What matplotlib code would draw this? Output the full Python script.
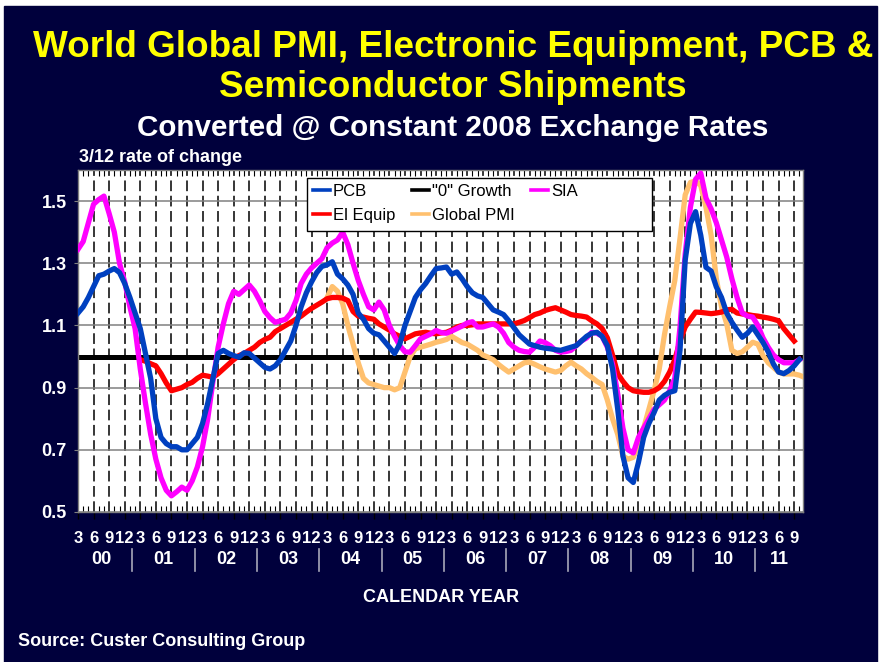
import numpy as np
import matplotlib.pyplot as plt
from matplotlib.lines import Line2D
from matplotlib.patches import Rectangle
import matplotlib.transforms as mtransforms

plt.rcParams['font.family'] = ['Liberation Sans', 'DejaVu Sans']

# month numbers count from Jan 2000 = 1, so Mar 2000 = 3
pcb_start = 3
pcb = [1.14, 1.16, 1.19, 1.225, 1.26, 1.265, 1.275, 1.283, 1.27, 1.235,
       1.19, 1.14, 1.09, 1.01, 0.93, 0.80, 0.74, 0.72, 0.71, 0.71, 0.70, 0.70,
       0.72, 0.74, 0.785, 0.85, 0.93, 1.01, 1.02, 1.01, 1.003, 0.998, 1.012, 1.01,
       0.995, 0.98, 0.965, 0.96, 0.97, 0.99, 1.02, 1.05, 1.10, 1.16, 1.205, 1.24,
       1.27, 1.29, 1.295, 1.305, 1.265, 1.25, 1.23, 1.20, 1.14, 1.12, 1.09, 1.075,
       1.07, 1.05, 1.03, 1.01, 1.04, 1.10, 1.145, 1.19, 1.215, 1.235, 1.26, 1.283,
       1.285, 1.288, 1.265, 1.272, 1.25, 1.225, 1.205, 1.195, 1.19, 1.17, 1.15, 1.143,
       1.135, 1.115, 1.093, 1.07, 1.055, 1.04, 1.035, 1.03, 1.027, 1.025, 1.022, 1.02,
       1.025, 1.03, 1.035, 1.05, 1.065, 1.075, 1.078, 1.065, 1.035, 0.96, 0.83, 0.68,
       0.61, 0.595, 0.66, 0.74, 0.785, 0.82, 0.86, 0.875, 0.885, 0.89, 1.02, 1.31,
       1.428, 1.466, 1.39, 1.287, 1.275, 1.224, 1.19, 1.14, 1.11, 1.085, 1.062, 1.075,
       1.095, 1.07, 1.045, 1.015, 0.976, 0.95, 0.945, 0.955, 0.97, 0.99]

sia_start = 3
sia = [1.345, 1.37, 1.43, 1.49, 1.505, 1.516, 1.46, 1.40, 1.30, 1.24,
       1.16, 1.09, 0.96, 0.85, 0.75, 0.67, 0.61, 0.57, 0.552, 0.565, 0.58, 0.57,
       0.60, 0.645, 0.71, 0.80, 0.92, 1.03, 1.105, 1.17, 1.21, 1.20, 1.215, 1.23,
       1.21, 1.18, 1.145, 1.125, 1.11, 1.115, 1.12, 1.14, 1.18, 1.235, 1.265, 1.285,
       1.30, 1.315, 1.35, 1.365, 1.375, 1.40, 1.36, 1.30, 1.245, 1.20, 1.16, 1.15,
       1.175, 1.15, 1.10, 1.065, 1.035, 1.015, 1.014, 1.035, 1.057, 1.065, 1.073, 1.084,
       1.077, 1.075, 1.082, 1.09, 1.098, 1.108, 1.112, 1.095, 1.095, 1.10, 1.105, 1.095,
       1.075, 1.045, 1.03, 1.02, 1.016, 1.014, 1.03, 1.05, 1.045, 1.035, 1.02, 1.014,
       1.016, 1.02, 1.035, 1.05, 1.06, 1.078, 1.075, 1.065, 1.03, 0.976, 0.88, 0.77,
       0.70, 0.69, 0.74, 0.77, 0.80, 0.83, 0.845, 0.86, 0.89, 0.93, 1.095, 1.33,
       1.48, 1.57, 1.59, 1.51, 1.475, 1.43, 1.375, 1.32, 1.25, 1.19, 1.14, 1.13,
       1.127, 1.10, 1.06, 1.03, 1.005, 0.99, 0.98, 0.98, 0.98, 0.99]

equip_start = 15
equip = [0.99, 0.985, 0.977, 0.97, 0.945, 0.915, 0.89, 0.895, 0.90, 0.91,
         0.917, 0.93, 0.94, 0.937, 0.933, 0.945, 0.96, 0.975, 0.99, 1.003, 1.01, 1.02,
         1.03, 1.045, 1.055, 1.062, 1.08, 1.09, 1.10, 1.11, 1.12, 1.13, 1.143, 1.155,
         1.165, 1.175, 1.186, 1.19, 1.19, 1.188, 1.18, 1.145, 1.13, 1.127, 1.123, 1.12,
         1.105, 1.095, 1.085, 1.073, 1.065, 1.057, 1.065, 1.073, 1.076, 1.078, 1.075, 1.073,
         1.076, 1.078, 1.085, 1.095, 1.10, 1.10, 1.102, 1.105, 1.105, 1.105, 1.105, 1.105,
         1.105, 1.105, 1.105, 1.11, 1.116, 1.125, 1.135, 1.14, 1.148, 1.153, 1.157, 1.15,
         1.143, 1.135, 1.132, 1.13, 1.127, 1.115, 1.105, 1.09, 1.06, 1.005, 0.945, 0.92,
         0.90, 0.89, 0.887, 0.885, 0.885, 0.89, 0.90, 0.92, 0.95, 0.99, 1.05, 1.095,
         1.12, 1.143, 1.142, 1.14, 1.138, 1.14, 1.143, 1.15, 1.152, 1.14, 1.137, 1.135,
         1.132, 1.13, 1.127, 1.124, 1.12, 1.115, 1.09, 1.07, 1.05]

pmi_start = 51
pmi = [1.19, 1.225, 1.21, 1.17, 1.10, 1.04, 0.98, 0.93, 0.915, 0.91,
       0.905, 0.90, 0.90, 0.893, 0.90, 0.95, 1.00, 1.025, 1.03, 1.035, 1.04, 1.046,
       1.05, 1.055, 1.065, 1.055, 1.045, 1.04, 1.03, 1.02, 1.005, 0.998, 0.99, 0.975,
       0.962, 0.95, 0.96, 0.97, 0.98, 0.982, 0.975, 0.967, 0.96, 0.955, 0.95, 0.955,
       0.97, 0.982, 0.97, 0.96, 0.945, 0.933, 0.92, 0.91, 0.86, 0.80, 0.75, 0.68,
       0.67, 0.676, 0.72, 0.77, 0.83, 0.89, 0.96, 1.07, 1.16, 1.245, 1.38, 1.52,
       1.56, 1.565, 1.55, 1.48, 1.39, 1.25, 1.16, 1.105, 1.02, 1.01, 1.015, 1.03,
       1.046, 1.04, 1.003, 0.98, 0.965, 0.95, 0.944, 0.944, 0.944, 0.94, 0.933]

years = ['00', '01', '02', '03', '04', '05', '06', '07', '08', '09', '10', '11']

navy = '#00003C'

fig = plt.figure(figsize=(8.8, 6.62), dpi=100)
fig.patch.set_facecolor('white')
fig.patches.append(Rectangle((4 / 880, 0), 873 / 880, 656 / 662,
                             transform=fig.transFigure, color=navy, zorder=-10))

ax = fig.add_axes([78 / 880, 150 / 662, 725 / 880, 342 / 662])
ax.set_facecolor('white')
ax.set_xlim(3, 142.7)
ax.set_ylim(0.5, 1.6)


def months(start, vals):
    return np.arange(start, start + len(vals))


ax.axhline(1.0, color='black', lw=3.6, zorder=2)
ax.plot(months(pmi_start, pmi), pmi, color='#FFC06E', lw=3.8, zorder=3)
ax.plot(months(equip_start, equip), equip, color='#FF0000', lw=3.8, zorder=4)
ax.plot(months(sia_start, sia), sia, color='#FF00FF', lw=3.8, zorder=5)
ax.plot(months(pcb_start, pcb), pcb, color='#0040C0', lw=3.8, zorder=6)

# grid
quarters = np.arange(3, 142, 3)
ax.set_xticks(quarters, [str((m - 1) % 12 + 1) for m in quarters],
              fontsize=12, fontweight='bold', color='white')
ax.set_xticks(np.arange(3, 143), minor=True)
ax.set_yticks([0.5, 0.7, 0.9, 1.1, 1.3, 1.5],
              ['0.5', '0.7', '0.9', '1.1', '1.3', '1.5'],
              fontsize=13, fontweight='bold', color='white')
ax.set_axisbelow(True)
ax.xaxis.grid(True, which='major', color='black', lw=1.1, linestyle=(0, (7, 3)))
ax.yaxis.grid(True, color='#808080', lw=1.1)
ax.tick_params(axis='x', which='major', direction='out', length=5, width=1,
               color='black', pad=9)
ax.tick_params(axis='x', which='minor', direction='in', length=4, width=0.8,
               color='black', top=True)
ax.tick_params(axis='y', length=3, color='#808080', pad=5)
for s in ax.spines.values():
    s.set_color('#808080')
    s.set_linewidth(1)

# year labels under month labels
trans = mtransforms.blended_transform_factory(ax.transData, ax.transAxes)
seps = np.arange(13.5, 140, 12)
bounds = np.concatenate([[seps[0] - 12], seps, [ax.get_xlim()[1]]])
for k, yr in enumerate(years):
    ax.text((bounds[k] + bounds[k + 1]) / 2, -0.14, yr, transform=trans,
            ha='center', va='center', fontsize=13, fontweight='bold', color='white')
for s in seps:
    ax.add_line(Line2D([s, s], [-0.108, -0.173], transform=trans, color='#A8A8B8',
                       lw=1.2, clip_on=False))

# legend box
ax.add_patch(Rectangle((0.316, 0.822), 0.476, 0.155, transform=ax.transAxes,
                       facecolor='white', edgecolor='black', lw=1, zorder=10))
handles = [Line2D([], [], color='#0040C0', lw=2.6),
           Line2D([], [], color='#FF0000', lw=2.6),
           Line2D([], [], color='black', lw=2.6),
           Line2D([], [], color='#FFC06E', lw=2.6),
           Line2D([], [], color='#FF00FF', lw=2.6)]
labels = ['PCB', 'El Equip', '"0" Growth', 'Global PMI', 'SIA']
leg = ax.legend(handles, labels, ncol=3, loc='upper left',
                bbox_to_anchor=(0.324, 0.96), frameon=False, fontsize=12,
                handlelength=1.0, handletextpad=0.2, columnspacing=1.0,
                borderpad=0, borderaxespad=0, labelspacing=0.55)
leg.set_zorder(11)

# titles and notes
fig.text(453 / 880, 1 - 57 / 662, 'World Global PMI, Electronic Equipment, PCB &',
         ha='center', va='baseline', fontsize=26.6, fontweight='bold', color='#FFFF00')
fig.text(453 / 880, 1 - 97 / 662, 'Semiconductor Shipments',
         ha='center', va='baseline', fontsize=26.6, fontweight='bold', color='#FFFF00')
fig.text(453 / 880, 1 - 136 / 662, 'Converted @ Constant 2008 Exchange Rates',
         ha='center', va='baseline', fontsize=21.3, fontweight='bold', color='white')
fig.text(79 / 880, 1 - 162 / 662, '3/12 rate of change',
         ha='left', va='baseline', fontsize=13, fontweight='bold', color='white')
fig.text(441 / 880, 1 - 598 / 662, 'CALENDAR YEAR',
         ha='center', va='center', fontsize=13, fontweight='bold', color='white')
fig.text(18 / 880, 1 - 641 / 662, 'Source: Custer Consulting Group',
         ha='left', va='center', fontsize=13, fontweight='bold', color='white')

fig.savefig('out.png', dpi=100, facecolor=fig.get_facecolor())
